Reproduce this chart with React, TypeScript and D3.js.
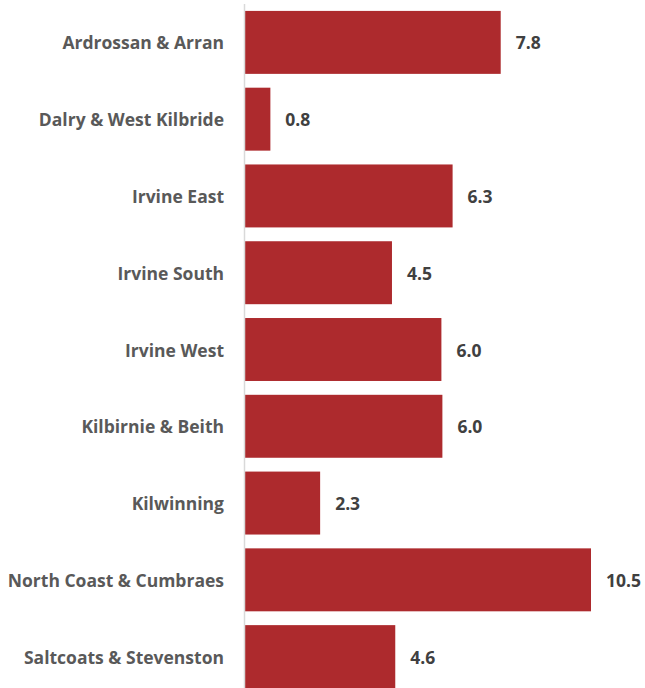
import React from "react";
import * as d3 from "d3";

const categories = [
  "Ardrossan & Arran",
  "Dalry & West Kilbride",
  "Irvine East",
  "Irvine South",
  "Irvine West",
  "Kilbirnie & Beith",
  "Kilwinning",
  "North Coast & Cumbraes",
  "Saltcoats & Stevenston",
];
const values = [7.76, 0.77, 6.3, 4.46, 5.96, 5.99, 2.28, 10.5, 4.56];

const W = 645;
const H = 700;
const axisX = 245;

export default function App() {
  const x = d3.scaleLinear().domain([0, 10.5]).range([axisX, 591]);
  const y = d3
    .scaleBand<string>()
    .domain(categories)
    .range([4, 695])
    .paddingInner(0.18)
    .paddingOuter(0.09);
  const font = "'Open Sans', sans-serif";
  return (
    <svg
      width={W}
      height={H}
      style={{ position: "absolute", top: 0, left: 0, display: "block" }}
    >
      <rect width={W} height={H} fill="#ffffff" />
      {categories.map((c, i) => {
        const yy = y(c)!;
        const bw = y.bandwidth();
        return (
          <g key={c}>
            <rect
              x={x(0)}
              y={yy}
              width={x(values[i]) - x(0)}
              height={bw}
              fill="#AD2A2D"
            />
            <text
              x={224}
              y={yy + bw / 2}
              textAnchor="end"
              dominantBaseline="central"
              fontFamily={font}
              fontWeight={700}
              fontSize={17.5}
              fill="#595959"
            >
              {c}
            </text>
            <text
              x={x(values[i]) + 15}
              y={yy + bw / 2}
              dominantBaseline="central"
              fontFamily={font}
              fontWeight={700}
              fontSize={17.5}
              fill="#404040"
            >
              {d3.format(".1f")(values[i])}
            </text>
          </g>
        );
      })}
      <line x1={axisX - 0.5} x2={axisX - 0.5} y1={4} y2={H} stroke="#d9d9d9" strokeWidth={1.5} />
    </svg>
  );
}
